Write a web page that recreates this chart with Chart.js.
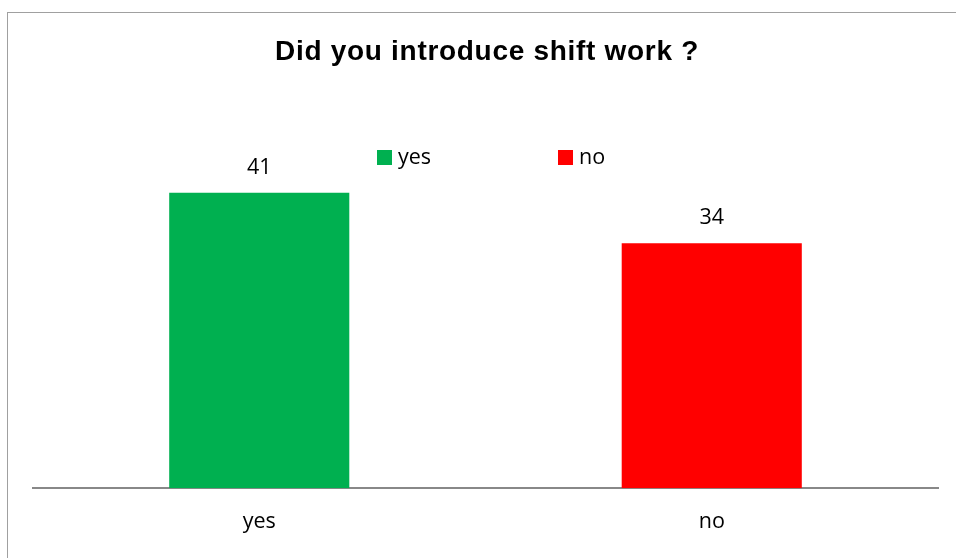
<!DOCTYPE html>
<html>
<head>
<meta charset="utf-8">
<script src="https://cdn.jsdelivr.net/npm/chart.js@4"></script>
<style>
  body { margin: 0; background: #fff; }
  #wrap { width: 956px; height: 558px; position: relative; }
</style>
</head>
<body>
<div id="wrap"><canvas id="shiftChart" width="956" height="558"></canvas></div>
<script>
// Chart data
const categories = ['yes', 'no'];
const answers = [41, 34];
const barColors = ['#00B050', '#FF0000'];
const chartTitle = 'Did you introduce shift work ?';

const labelFont = '21.5px "Open Sans", "Noto Sans", sans-serif';

// Outer frame like the spreadsheet chart box
const framePlugin = {
    id: 'frame',
    beforeDraw(chart) {
        const c = chart.ctx;
        c.save();
        c.fillStyle = '#fff';
        c.fillRect(0, 0, chart.width, chart.height);
        c.strokeStyle = '#a0a0a0';
        c.lineWidth = 1;
        c.strokeRect(7.5, 12.5, 970, 570);
        c.restore();
    }
};

// Title, slightly letter-spaced like the original
const titlePlugin = {
    id: 'bigTitle',
    afterDraw(chart) {
        const c = chart.ctx;
        c.save();
        c.font = 'bold 28px "Liberation Sans", Arial, sans-serif';
        if ('letterSpacing' in c) c.letterSpacing = '0.7px';
        c.fillStyle = '#000';
        c.textAlign = 'center';
        c.textBaseline = 'alphabetic';
        c.fillText(chartTitle, 487, 60);
        c.restore();
    }
};

// Values drawn above each bar
const valueLabels = {
    id: 'valueLabels',
    afterDatasetsDraw(chart) {
        const c = chart.ctx;
        const meta = chart.getDatasetMeta(0);
        c.save();
        c.font = labelFont;
        c.fillStyle = '#000';
        c.textAlign = 'center';
        c.textBaseline = 'alphabetic';
        meta.data.forEach((bar, i) => {
            c.fillText(chart.data.datasets[0].data[i], bar.x, bar.y - 19);
        });
        c.restore();
    }
};

// Legend sitting inside the plot area, like the original
const innerLegend = {
    id: 'innerLegend',
    afterDraw(chart) {
        const c = chart.ctx;
        const xs = [377, 558];
        c.save();
        c.font = labelFont;
        c.textBaseline = 'alphabetic';
        chart.data.labels.forEach((label, i) => {
            c.fillStyle = chart.data.datasets[0].backgroundColor[i];
            c.fillRect(xs[i], 150, 15, 15);
            c.fillStyle = '#000';
            c.fillText(label, xs[i] + 21, 164);
        });
        c.restore();
    }
};

const ctx = document.getElementById('shiftChart').getContext('2d');
const shiftChart = new Chart(ctx, {
    type: 'bar',
    data: {
        labels: categories,
        datasets: [{
            data: answers,
            backgroundColor: barColors,
            categoryPercentage: 1,
            barPercentage: 0.398
        }]
    },
    options: {
        responsive: false,
        animation: false,
        layout: { padding: { left: 33, right: 18, top: 164, bottom: 2 } },
        plugins: {
            legend: { display: false },
            tooltip: { enabled: false },
            title: { display: false }
        },
        scales: {
            x: {
                grid: { display: false, drawTicks: false },
                border: { display: true, color: '#888', width: 2 },
                ticks: { color: '#000', padding: 21, font: { family: '"Open Sans", "Noto Sans", sans-serif', size: 21.5 } }
            },
            y: {
                display: false,
                min: 0,
                max: 45
            }
        }
    },
    plugins: [framePlugin, valueLabels, innerLegend, titlePlugin]
});
</script>
</body>
</html>
